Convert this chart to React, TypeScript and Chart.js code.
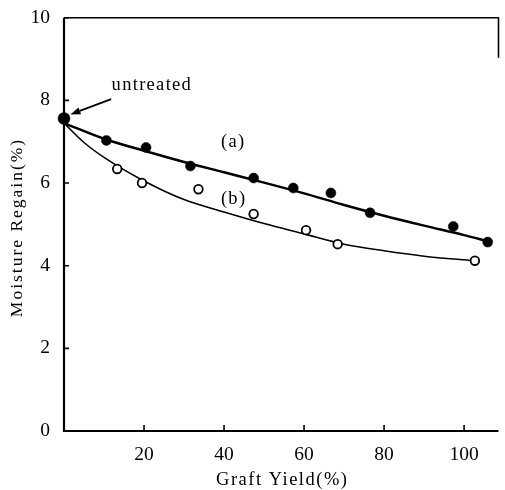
import React, { useEffect, useRef } from 'react';
import { Chart, registerables } from 'chart.js';

Chart.register(...registerables);

// Axis ticks
const xTicks = [20, 40, 60, 80, 100];
const yTicks = [0, 2, 4, 6, 8, 10];

// Measured points: (a) filled, (b) open
const seriesAX = [10.6, 20.5, 31.6, 47.4, 57.3, 66.7, 76.5, 97.3, 105.9];
const seriesAY = [7.03, 6.86, 6.41, 6.12, 5.88, 5.76, 5.28, 4.95, 4.57];
const seriesBX = [13.3, 19.5, 33.6, 47.4, 60.5, 68.4, 102.7];
const seriesBY = [6.34, 6.0, 5.85, 5.25, 4.86, 4.52, 4.12];
const untreatedX = [0];
const untreatedY = [7.56];

// Fitted curves
const curveAX = [0, 10, 20, 30, 40, 50, 60, 70, 80, 90, 100, 106];
const curveAY = [7.45, 7.07, 6.78, 6.51, 6.26, 6.01, 5.75, 5.47, 5.21, 4.97, 4.74, 4.59];
const curveBX = [0, 5, 10, 20, 30, 40, 50, 60, 70, 80, 90, 102.5];
const curveBY = [7.45, 6.98, 6.62, 6.05, 5.6, 5.3, 5.02, 4.77, 4.52, 4.36, 4.23, 4.12];

const xTitle = 'Graft Yield(%)';
const yTitle = 'Moisture Regain(%)';
const untreatedLabel = 'untreated';
const labelA = '(a)';
const labelB = '(b)';

const toPts = (xs: number[], ys: number[]) => xs.map((v, i) => ({ x: v, y: ys[i] }));

const FONT = '"Liberation Serif", "Times New Roman", serif';

const decor = {
  id: 'decor',
  afterDraw(chart: any) {
    const { ctx, chartArea: a, scales } = chart;
    const x = scales.x;
    const y = scales.y;
    const P = (vx: number, vy: number) => [x.getPixelForValue(vx), y.getPixelForValue(vy)];
    ctx.save();
    ctx.strokeStyle = '#000';
    ctx.fillStyle = '#000';
    ctx.lineCap = 'butt';
    // frame
    ctx.lineWidth = 2.2;
    ctx.beginPath();
    ctx.moveTo(a.left, a.top);
    ctx.lineTo(a.left, a.bottom);
    ctx.lineTo(a.right, a.bottom);
    ctx.stroke();
    ctx.lineWidth = 1.6;
    ctx.beginPath();
    ctx.moveTo(a.left, a.top);
    ctx.lineTo(a.right, a.top);
    ctx.lineTo(a.right, a.top + 40);
    ctx.stroke();
    // inward ticks
    ctx.lineWidth = 1.6;
    ctx.beginPath();
    xTicks.forEach((v) => {
      const px = x.getPixelForValue(v);
      ctx.moveTo(px, a.bottom);
      ctx.lineTo(px, a.bottom - 6);
    });
    yTicks.forEach((v) => {
      const py = y.getPixelForValue(v);
      ctx.moveTo(a.left, py);
      ctx.lineTo(a.left + 5, py);
    });
    ctx.stroke();

    // annotations
    (ctx as any).letterSpacing = '1.3px';
    ctx.font = `18.5px ${FONT}`;
    ctx.textAlign = 'left';
    ctx.textBaseline = 'alphabetic';
    let [tx, ty] = P(11.9, 8.24);
    ctx.fillText(untreatedLabel, tx, ty);

    // arrow
    const [sx, sy] = P(11.8, 8.03);
    const [ex, ey] = P(1.6, 7.66);
    const ang = Math.atan2(ey - sy, ex - sx);
    const hl = 10;
    const hw = 3.6;
    const bx = ex - hl * Math.cos(ang);
    const by = ey - hl * Math.sin(ang);
    ctx.lineWidth = 2;
    ctx.beginPath();
    ctx.moveTo(sx, sy);
    ctx.lineTo(bx, by);
    ctx.stroke();
    ctx.beginPath();
    ctx.moveTo(ex, ey);
    ctx.lineTo(bx + hw * Math.sin(ang), by - hw * Math.cos(ang));
    ctx.lineTo(bx - hw * Math.sin(ang), by + hw * Math.cos(ang));
    ctx.closePath();
    ctx.fill();

    ctx.textAlign = 'center';
    ctx.textBaseline = 'middle';
    [tx, ty] = P(42.3, 7.0);
    ctx.fillText(labelA, tx, ty);
    [tx, ty] = P(42.4, 5.62);
    ctx.fillText(labelB, tx, ty);

    // axis titles
    ctx.textBaseline = 'alphabetic';
    (ctx as any).letterSpacing = '1.5px';
    ctx.font = `18.5px ${FONT}`;
    ctx.fillText(xTitle, (a.left + a.right) / 2 + 1, 485);
    ctx.translate(21.5, 227.5);
    ctx.rotate(-Math.PI / 2);
    (ctx as any).letterSpacing = '2px';
    ctx.font = `17.5px ${FONT}`;
    ctx.fillText(yTitle, 0, 0);
    ctx.restore();
  },
};

export default function App() {
  const ref = useRef<HTMLCanvasElement | null>(null);
  useEffect(() => {
    document.body.style.margin = '0';
    const canvas = ref.current;
    if (!canvas) return;
    const chart = new Chart(canvas, {
      type: 'scatter',
      data: {
        datasets: [
          {
            label: 'b points',
            data: toPts(seriesBX, seriesBY),
            pointRadius: 4.3,
            pointBackgroundColor: '#fff',
            pointBorderColor: '#000',
            pointBorderWidth: 1.8,
            showLine: false,
            clip: false,
          },
          {
            label: 'a points',
            data: toPts(seriesAX, seriesAY),
            pointRadius: 5,
            pointBackgroundColor: '#000',
            pointBorderColor: '#000',
            pointBorderWidth: 0.5,
            showLine: false,
            clip: false,
          },
          {
            label: 'untreated',
            data: toPts(untreatedX, untreatedY),
            pointRadius: 6,
            pointBackgroundColor: '#000',
            pointBorderColor: '#000',
            pointBorderWidth: 0.5,
            showLine: false,
            clip: false,
          },
          {
            label: 'curve a',
            data: toPts(curveAX, curveAY),
            showLine: true,
            borderColor: '#000',
            borderWidth: 2.5,
            pointRadius: 0,
            cubicInterpolationMode: 'monotone',
            fill: false,
          },
          {
            label: 'curve b',
            data: toPts(curveBX, curveBY),
            showLine: true,
            borderColor: '#000',
            borderWidth: 1.6,
            pointRadius: 0,
            cubicInterpolationMode: 'monotone',
            fill: false,
          },
        ],
      },
      options: {
        animation: false,
        responsive: false,
        events: [],
        layout: { padding: { left: 0, top: 16, right: 2, bottom: 0 } },
        plugins: { legend: { display: false }, tooltip: { enabled: false } },
        scales: {
          x: {
            type: 'linear',
            min: 0,
            max: 108.6,
            grid: { display: false },
            border: { display: false },
            afterBuildTicks: (s: any) => {
              s.ticks = xTicks.map((v) => ({ value: v }));
            },
            afterFit: (s: any) => {
              s.height = 59;
            },
            ticks: {
              color: '#000',
              padding: 4,
              maxRotation: 0,
              autoSkip: false,
              font: { family: FONT, size: 19.5 },
            },
          },
          y: {
            type: 'linear',
            min: 0,
            max: 10,
            grid: { display: false },
            border: { display: false },
            afterBuildTicks: (s: any) => {
              s.ticks = yTicks.map((v) => ({ value: v }));
            },
            afterFit: (s: any) => {
              s.width = 64;
            },
            ticks: {
              color: '#000',
              padding: 6,
              autoSkip: false,
              font: { family: FONT, size: 19.5 },
            },
          },
        },
      },
      plugins: [decor],
    } as any);
    return () => chart.destroy();
  }, []);
  return (
    <div style={{ position: 'absolute', left: 0, top: 0, width: 505, height: 490, background: '#fff' }}>
      <canvas ref={ref} width={505} height={490} />
    </div>
  );
}
